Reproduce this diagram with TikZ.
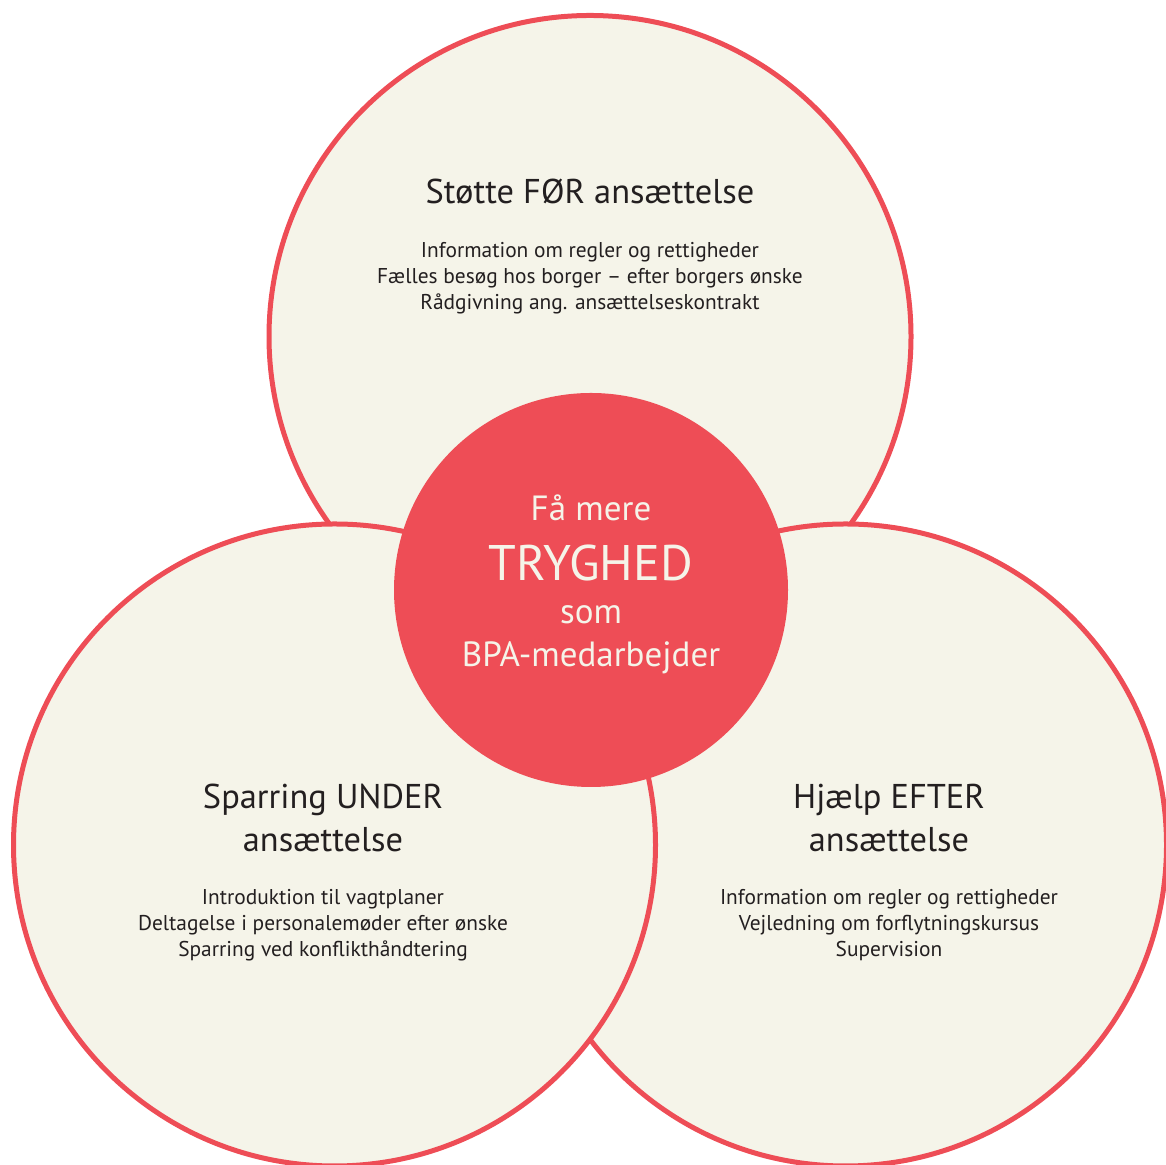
\documentclass[tikz,border=0pt]{standalone}
\usepackage{fontspec}
\setmainfont{PT Sans}
\definecolor{bparoed}{RGB}{238,77,86}
\definecolor{bpacreme}{RGB}{245,244,233}
\definecolor{bpatekst}{RGB}{35,31,32}
\begin{document}
\begin{tikzpicture}[x=0.5pt, y=0.5pt,
    fase/.style={circle, draw=bparoed, fill=bpacreme, line width=2.5pt, minimum size=321pt, inner sep=0pt},
    kerne/.style={circle, fill=bparoed, minimum size=197pt, inner sep=0pt},
    overskrift/.style={anchor=base, align=center, text=bpatekst, inner sep=0pt, font=\fontsize{17.2}{21.5}\selectfont},
    punkter/.style={anchor=base, align=center, text=bpatekst, inner sep=0pt, font=\fontsize{10.7}{13}\selectfont},
    kernetekst/.style={anchor=base, text=bpacreme, inner sep=0pt, font=\fontsize{17.5}{21}\selectfont}]
        \useasboundingbox (0,0) rectangle (1166,1165);
        \node[fase] (foer) at (590,828.5) {};
        \node[fase] (efter) at (845.5,320) {};
        \node[fase] (under) at (334.5,320) {};
        \node[kerne] (tryghed) at (591,575) {};
        \node[overskrift] (foertitel) at (590,961) {Støtte FØR ansættelse};
        \node[punkter] (foerpunkter) at (590,855) {Information om regler og rettigheder\\Fælles besøg hos borger -- efter borgers ønske\\Rådgivning ang. ansættelseskontrakt};
        \node[overskrift] (undertitel) at (323,313) {Sparring UNDER\\ansættelse};
        \node[punkter] (underpunkter) at (323,208) {Introduktion til vagtplaner\\Deltagelse i personalemøder efter ønske\\Sparring ved konflikthåndtering};
        \node[overskrift] (eftertitel) at (889,313) {Hjælp EFTER\\ansættelse};
        \node[punkter] (efterpunkter) at (889,208) {Information om regler og rettigheder\\Vejledning om forflytningskursus\\Supervision};
        \node[kernetekst] (faamere) at (591,644) {Få mere};
        \node[kernetekst, font=\fontsize{25}{30}\selectfont] (trygord) at (591,584) {TRYGHED};
        \node[kernetekst] (som) at (591,541) {som};
        \node[kernetekst] (bpa) at (591,498) {BPA-medarbejder};
      \end{tikzpicture}
\end{document}
